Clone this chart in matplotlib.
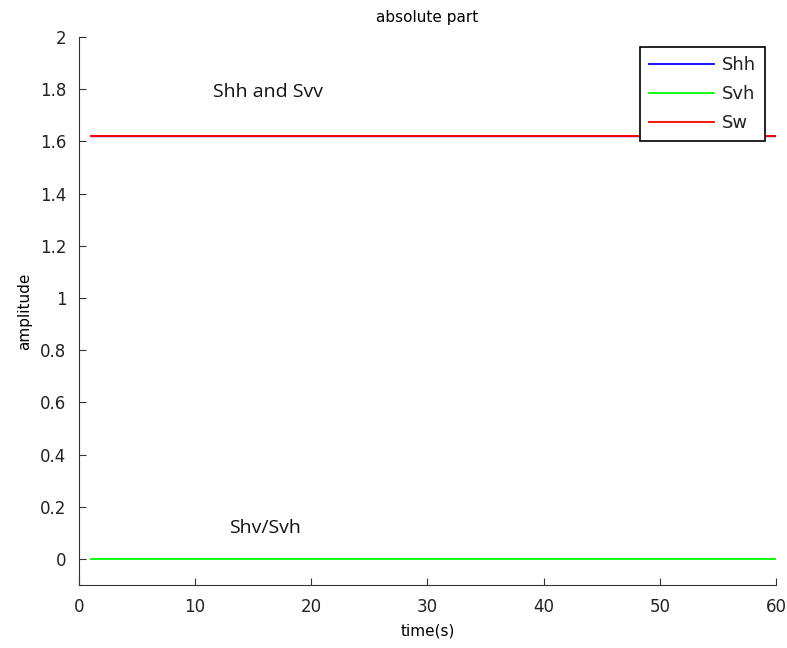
import matplotlib
matplotlib.use("Agg")
import matplotlib.pyplot as plt

# sampled end points of each signal (constant over the run)
time = [1, 60]
shh = [1.62, 1.62]
svh = [0.0, 0.0]
svv = [1.62, 1.62]

x_ticks = [0, 10, 20, 30, 40, 50, 60]
y_ticks = [0, 0.2, 0.4, 0.6, 0.8, 1, 1.2, 1.4, 1.6, 1.8, 2]

fig = plt.figure(figsize=(7.87, 6.48), dpi=100)
ax = fig.add_axes([0.1004, 0.0972, 0.8856, 0.8458])

ax.plot(time, shh, color='#0000ff', lw=1.0, label='Shh')
ax.plot(time, svh, color='#00ff00', lw=1.3, label='Svh')
ax.plot(time, svv, color='#ff0000', lw=1.4, label='Sw')

ax.set_xlim(0, 60)
ax.set_ylim(-0.1, 2)
ax.set_xticks(x_ticks)
ax.set_yticks(y_ticks)
ax.set_yticklabels(['0', '0.2', '0.4', '0.6', '0.8', '1', '1.2', '1.4', '1.6', '1.8', '2'])

for s in ['top', 'right']:
    ax.spines[s].set_visible(False)
for s in ['left', 'bottom']:
    ax.spines[s].set_color('#333333')
ax.tick_params(direction='in', length=5, colors='#333333', labelsize=12, labelcolor='#222222')
ax.tick_params(axis='x', pad=9)
ax.tick_params(axis='y', pad=9)

ax.set_title('absolute part', fontsize=11, pad=11)
ax.set_xlabel('time(s)', fontsize=11, labelpad=6)
ax.set_ylabel('amplitude', fontsize=11, labelpad=6)

ax.text(11.5, 1.79, 'Shh and Svv', fontsize=14, family='Open Sans', color='#111111', va='center')
ax.text(12.9, 0.12, 'Shv/Svh', fontsize=14, family='Open Sans', color='#111111', va='center')

leg = ax.legend(loc='upper right', bbox_to_anchor=(0.984, 0.982), fontsize=13,
                fancybox=False, framealpha=1, edgecolor='black', handlelength=3.6,
                borderpad=0.5, labelspacing=0.62, handletextpad=0.4, borderaxespad=0)
leg.get_frame().set_linewidth(1.2)
for t in leg.get_texts():
    t.set_color('#222222')
for h in leg.get_lines():
    h.set_linewidth(1.3)

fig.savefig('out.png', dpi=100)
